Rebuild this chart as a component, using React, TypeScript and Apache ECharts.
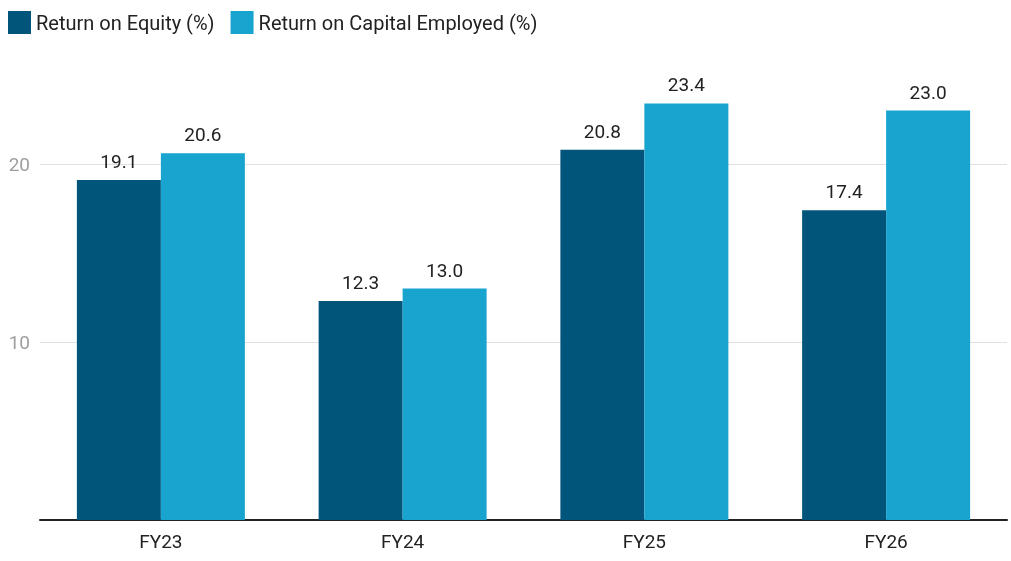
import React, { useEffect, useRef } from "react";
import * as echarts from "echarts";

const categories = ["FY23", "FY24", "FY25", "FY26"];
const roe = [19.1, 12.3, 20.8, 17.4];
const roce = [20.6, 13.0, 23.4, 23.0];
const seriesNames = ["Return on Equity (%)", "Return on Capital Employed (%)"];

export default function App() {
  const ref = useRef<HTMLDivElement>(null);
  useEffect(() => {
    document.body.style.margin = "0";
    const chart = echarts.init(ref.current!, null, { renderer: "svg" });
    const font = "Roboto";
    const label = {
      show: true,
      position: "top",
      distance: 9,
      color: "#222",
      fontSize: 19,
      fontFamily: font,
      formatter: (p: any) => Number(p.value).toFixed(1),
    };
    chart.setOption({
      animation: false,
      legend: {
        left: 8,
        top: 11,
        padding: 0,
        itemWidth: 23,
        itemHeight: 23,
        itemGap: 16,
        icon: "rect",
        textStyle: { fontSize: 20, fontFamily: font, color: "#222" },
        data: seriesNames,
      },
      grid: { left: 40, right: 4, top: 75, bottom: 41 },
      xAxis: {
        type: "category",
        data: categories,
        axisLine: { lineStyle: { color: "#222", width: 2 } },
        axisTick: { show: false },
        axisLabel: { color: "#222", fontSize: 19, fontFamily: font, margin: 12 },
      },
      yAxis: {
        type: "value",
        min: 0,
        max: 25,
        interval: 10,
        axisLine: { show: false },
        axisTick: { show: false },
        axisLabel: {
          color: "#9e9e9e",
          fontSize: 19,
          fontFamily: font,
          margin: 10,
          showMinLabel: false,
          showMaxLabel: false,
        },
        splitLine: {
          lineStyle: { color: "#e0e0e0", width: 1 },
          showMinLine: false,
          showMaxLine: false,
        },
      },
      series: [
        {
          name: seriesNames[0],
          type: "bar",
          data: roe,
          barWidth: 84,
          barGap: "0%",
          itemStyle: { color: "#01547a" },
          label,
        },
        {
          name: seriesNames[1],
          type: "bar",
          data: roce,
          barWidth: 84,
          barGap: "0%",
          itemStyle: { color: "#19a3cf" },
          label,
        },
      ],
    });
    return () => chart.dispose();
  }, []);
  return <div ref={ref} style={{ position: "fixed", left: 0, top: 0, width: 1011, height: 561 }} />;
}
